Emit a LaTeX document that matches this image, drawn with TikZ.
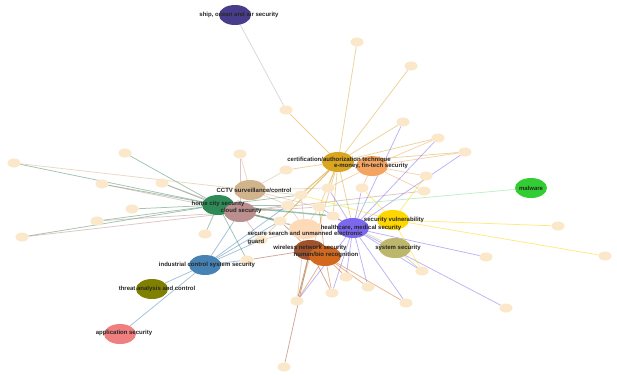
\documentclass[tikz,border=0pt]{standalone}
\usepackage{fontspec}
\setmainfont{Liberation Sans}
\usetikzlibrary{shapes.geometric}
\pgfdeclarelayer{fondo}
\pgfdeclarelayer{frente}
\pgfsetlayers{fondo,main,frente}
\definecolor{shipc}{RGB}{72,61,139}
\definecolor{certc}{RGB}{218,165,32}
\definecolor{emoneyc}{RGB}{244,164,96}
\definecolor{cctvc}{RGB}{210,180,140}
\definecolor{homec}{RGB}{46,139,87}
\definecolor{cloudc}{RGB}{188,143,143}
\definecolor{searchc}{RGB}{255,218,185}
\definecolor{healthc}{RGB}{123,104,238}
\definecolor{vulnc}{RGB}{255,215,0}
\definecolor{systemc}{RGB}{189,183,107}
\definecolor{wirelessc}{RGB}{160,82,45}
\definecolor{humanc}{RGB}{210,105,30}
\definecolor{indc}{RGB}{70,130,180}
\definecolor{threatc}{RGB}{128,128,0}
\definecolor{appc}{RGB}{240,128,128}
\definecolor{malwarec}{RGB}{50,205,50}
\definecolor{leafc}{RGB}{251,231,201}

\begin{document}
\begin{tikzpicture}[x=1pt, y=-1pt,
	tema/.style={ellipse, fill=#1, minimum width=32pt, minimum height=20pt, inner sep=0pt},
	hoja/.style={ellipse, fill=leafc, minimum width=13pt, minimum height=9pt, inner sep=0pt},
	etiqueta/.style={font=\bfseries\fontsize{6}{8}\selectfont, text=black!85, inner sep=0pt},
	lnk/.style={draw=#1, draw opacity=0.5, line width=0.75pt}
	]
	\useasboundingbox (0,0) rectangle (617,375);
	
	% Temas principales
	\node[tema=shipc] (ship) at (235,15) {};
	\node[tema=certc] (cert) at (338,162) {};
	\node[tema=emoneyc] (emoney) at (372,166) {};
	\node[tema=cctvc] (cctv) at (250,190) {};
	\node[tema=homec] (home) at (218,205) {};
	\node[tema=cloudc] (cloud) at (240,212) {};
	\node[tema=searchc] (search) at (305,229) {};
	\node[tema=healthc] (health) at (353,228) {};
	\node[tema=vulnc] (vuln) at (393,220) {};
	\node[tema=systemc] (system) at (395,248) {};
	\node[tema=wirelessc] (wireless) at (310,250) {};
	\node[tema=humanc] (human) at (325,256) {};
	\node[tema=indc] (ind) at (205,265) {};
	\node[tema=threatc] (threat) at (152,289) {};
	\node[tema=appc] (app) at (120,334) {};
	\node[tema=malwarec] (malware) at (531,188) {};
	
	% Nodos sin etiqueta
	\foreach \n/\x/\y in {t1/357/42, t2/411/66, t3/286/110, t4/403/122, t5/438/138,
		t6/465/152, t7/426/176, t8/424/191, t9/240/154, t10/286/170, t11/125/153,
		t12/14/163, t13/102/184, t14/162/183, t15/132/209, t16/97/221, t17/22/237,
		c1/328/188, c2/362/188, c3/301/195, c4/288/205, c5/319/207, c6/333/216,
		c7/280/221, c8/205/234, c9/261/240, c10/247/260,
		b1/422/271, b2/346/277, b3/368/287, b4/332/293, b5/297/301, b6/406/303, b7/284/367,
		r1/558/226, r2/605/256, r3/486/257, r4/506/308}
		\node[hoja] (\n) at (\x,\y) {};
	
	% Aristas, debajo de los nodos
	\begin{pgfonlayer}{fondo}
		\fill[white] (0,0) rectangle (617,375);
		\draw[lnk=gray!60] (ship) -- (t3);
		\foreach \t in {t1,t2,t3,t4,t5,t6,t10,c1,c3,c4,c5,c7,c9,health,b5,c6}
			\draw[lnk=certc!80!cctvc] (cert) -- (\t);
		\foreach \t in {t5,t6,t7,t8,c2,c1}
			\draw[lnk=emoneyc] (emoney) -- (\t);
		\foreach \t in {t4,t5,t6,b1,b2,b3,b4,b5,b6,r3,r4,c5,c6,c2,c1}
			\draw[lnk=healthc] (health) -- (\t);
		\foreach \t in {r1,r2,t7,c2,c3,b1}
			\draw[lnk=vulnc] (vuln) -- (\t);
		\foreach \t in {b1,c6}
			\draw[lnk=systemc] (system) -- (\t);
		\foreach \t in {b5,b7,b4,c7,c10}
			\draw[lnk=wirelessc] (wireless) -- (\t);
		\foreach \t in {b5,b4,b2,b3,c5,b6}
			\draw[lnk=humanc] (human) -- (\t);
		\foreach \t in {t12,t11,t13,t14,t15,t16,t17,c8,c10,c4,c3,c7,search}
			\draw[lnk=homec!70!gray] (home) -- (\t);
		\draw[lnk=homec, line width=1.4pt] (home) -- (c6);
		\draw[lnk=homec, line width=1.2pt] (cloud) -- (c7);
		\foreach \t in {t13,t14,t16,t17,c4,c7,c9,c5,t9,t8}
			\draw[lnk=cloudc] (cloud) -- (\t);
		\foreach \t in {t9,t10,t12,c3,c4,c1,c5}
			\draw[lnk=cctvc] (cctv) -- (\t);
		\foreach \t in {c3,c4,c5,c7,c9,b5}
			\draw[lnk=searchc!80!black] (search) -- (\t);
		\foreach \t in {threat,app,c9,c4,c7,c10,cloud}
			\draw[lnk=indc] (ind) -- (\t);
		\draw[lnk=malwarec!60] (malware) -- (c5);
	\end{pgfonlayer}
	
	% Etiquetas encima de todo
	\begin{pgfonlayer}{frente}
		\node[etiqueta] (shiptxt) at (239,15) {ship, ocean and air security};
		\node[etiqueta] (certtxt) at (339,160) {certification/authorization technique};
		\node[etiqueta] (emoneytxt) at (371,166) {e-money, fin-tech security};
		\node[etiqueta] (cctvtxt) at (254,190) {CCTV surveillance/control};
		\node[etiqueta] (hometxt) at (218,204) {home city security};
		\node[etiqueta] (cloudtxt) at (241,211) {cloud security};
		\node[etiqueta, align=left] (searchtxt) at (305,238) {secure search and unmanned electronic\\guard};
		\node[etiqueta] (healthtxt) at (361,228) {healthcare, medical security};
		\node[etiqueta] (vulntxt) at (394,220) {security vulnerability};
		\node[etiqueta] (systemtxt) at (398,248) {system security};
		\node[etiqueta] (wirelesstxt) at (310,248) {wireless network security};
		\node[etiqueta] (humantxt) at (326,255) {human/bio recognition};
		\node[etiqueta] (indtxt) at (207,265) {industrial control system security};
		\node[etiqueta] (threattxt) at (157,289) {threat analysis and control};
		\node[etiqueta] (apptxt) at (124,333) {application security};
		\node[etiqueta] (malwaretxt) at (531,188) {malware};
	\end{pgfonlayer}
\end{tikzpicture}
\end{document}
